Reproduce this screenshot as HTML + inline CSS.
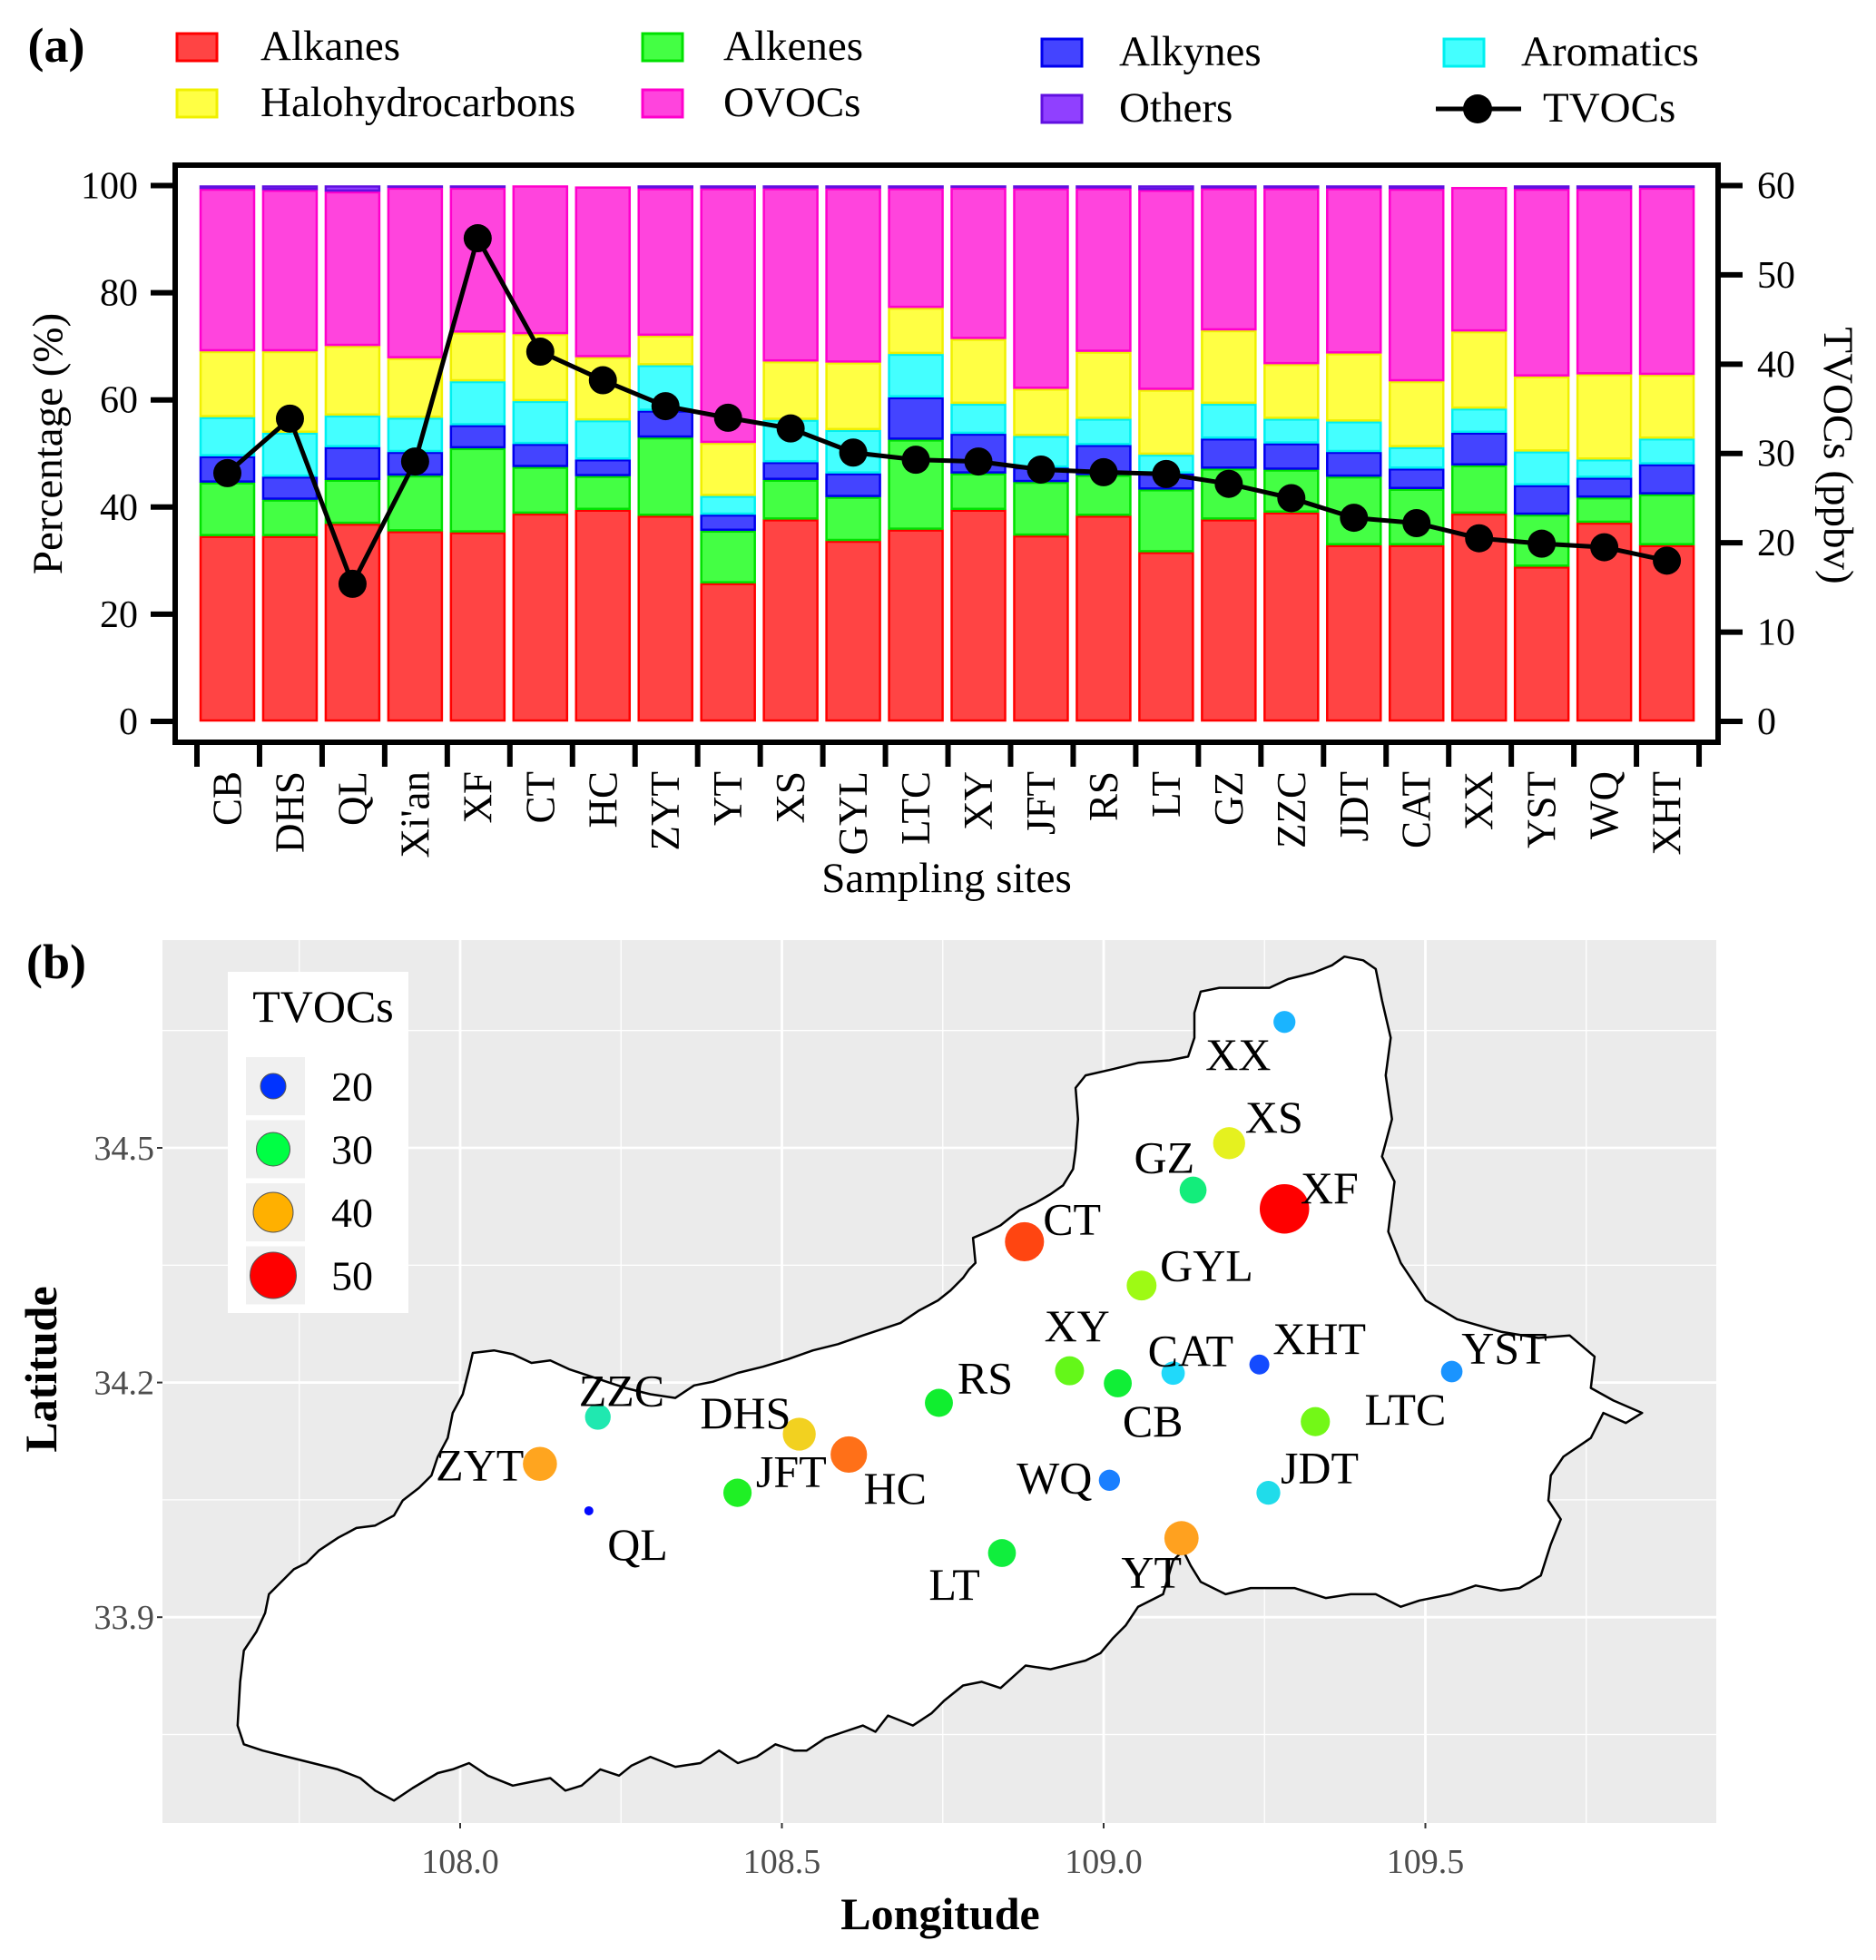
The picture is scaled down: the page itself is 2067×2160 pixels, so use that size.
<!DOCTYPE html>
<html><head><meta charset="utf-8"><style>
html,body{margin:0;padding:0;background:#fff;}
svg{display:block;font-family:"Liberation Serif",serif;}
</style></head><body>
<svg id="fig" width="2067" height="2160" viewBox="0 0 2067 2160" xmlns="http://www.w3.org/2000/svg">
<rect x="0" y="0" width="2067" height="2160" fill="#fff"/>
<text x="62" y="68" font-size="54" font-weight="bold" text-anchor="middle">(a)</text>
<g id="legend"></g>
<g id="chartA"></g>
<text x="62" y="1078" font-size="54" font-weight="bold" text-anchor="middle">(b)</text>
<g id="mapB"></g>
</svg>
<script>
const sites=["CB","DHS","QL","Xi'an","XF","CT","HC","ZYT","YT","XS","GYL","LTC","XY","JFT","RS","LT","GZ","ZZC","JDT","CAT","XX","YST","WQ","XHT"];
const alkanes=[34.6,34.6,36.9,35.5,35.3,38.8,39.5,38.4,25.8,37.7,33.7,35.8,39.5,34.7,38.4,31.6,37.7,39.0,32.9,32.9,38.8,28.9,37.1,32.9];
const alkenes=[10.0,6.8,8.2,10.4,15.7,8.7,6.3,14.6,9.8,7.4,8.2,16.8,6.8,10.0,7.6,11.7,9.5,8.0,12.8,10.5,9.0,9.7,4.7,9.5];
const alkynes=[4.9,4.3,6.1,4.4,4.3,4.3,3.1,5.0,3.0,3.3,4.4,7.9,7.4,2.7,5.6,3.0,5.6,4.9,4.6,3.8,6.1,5.5,3.7,5.6];
const aromatics=[7.3,8.2,5.9,6.4,8.2,8.0,7.3,8.5,3.5,7.9,8.1,8.1,5.6,5.9,4.9,3.5,6.5,4.6,5.7,4.0,4.5,6.3,3.4,4.8];
const halohydrocarbons=[12.3,15.2,13.0,11.1,9.1,12.5,11.8,5.5,9.9,10.9,12.6,8.6,12.1,8.8,12.5,12.1,13.7,10.2,12.7,12.3,14.4,14.0,15.9,11.9];
const ovocs=[30.3,30.1,28.8,31.8,27.0,27.7,31.8,27.5,47.5,32.3,32.5,22.3,28.2,37.4,30.5,37.3,26.5,32.8,30.8,35.9,26.9,35.0,34.6,34.9];
const others=[0.6,0.8,1.1,0.4,0.4,0.0,0.2,0.5,0.5,0.5,0.5,0.5,0.4,0.5,0.5,0.8,0.5,0.5,0.5,0.6,0.3,0.6,0.6,0.4];
const tvocs=[27.8,33.9,15.4,29.1,54.1,41.4,38.2,35.3,34.0,32.8,30.1,29.3,29.1,28.2,27.9,27.7,26.6,25.0,22.8,22.2,20.5,19.9,19.5,18.0];
const pctTicks=[0,20,40,60,80,100];
const tvocTicks=[0,10,20,30,40,50,60];
// map data
const mapSites=["XX","XS","GZ","XF","CT","GYL","XY","CAT","XHT","YST","RS","CB","ZZC","LTC","DHS","HC","ZYT","WQ","JDT","JFT","QL","YT","LT"];
const mapLon=[109.281,109.195,109.139,109.281,108.877,109.059,108.947,109.108,109.242,109.541,108.744,109.022,108.214,109.329,108.527,108.604,108.124,109.009,109.256,108.431,108.200,109.121,108.842];
const mapLat=[34.661,34.506,34.446,34.422,34.380,34.324,34.215,34.212,34.223,34.214,34.174,34.199,34.156,34.150,34.134,34.108,34.096,34.075,34.059,34.059,34.036,34.001,33.982];
const mapTvoc=[20.5,32.8,26.6,54.1,41.4,30.1,29.1,22.2,18.0,19.9,27.9,27.8,25.0,29.3,33.9,38.2,35.3,19.5,22.8,28.2,15.4,35.5,27.7];
const lonTicks=[108.0,108.5,109.0,109.5];
const latTicks=[33.9,34.2,34.5];
const legendVals=[20,30,40,50];

const NS="http://www.w3.org/2000/svg";
function mk(parent,tag,attrs,txt){const e=document.createElementNS(NS,tag);for(const k in attrs)e.setAttribute(k,attrs[k]);if(txt!==undefined)e.textContent=txt;parent.appendChild(e);return e;}

// ---------- Panel (a) ----------
const A=document.getElementById('chartA');
const yP=p=>795-p*5.905;
const yT=v=>795-v*9.842;
const barL=i=>220+i*68.96;
const BW=61;
const cats=[
 {name:'alkanes',vals:alkanes,fill:'#ff4444',stroke:'#ff0000'},
 {name:'alkenes',vals:alkenes,fill:'#44ff44',stroke:'#00e000'},
 {name:'alkynes',vals:alkynes,fill:'#4444ff',stroke:'#0000ee'},
 {name:'aromatics',vals:aromatics,fill:'#44ffff',stroke:'#00f0f0'},
 {name:'halohydrocarbons',vals:halohydrocarbons,fill:'#ffff44',stroke:'#f0f000'},
 {name:'ovocs',vals:ovocs,fill:'#ff44dd',stroke:'#ff00cc'},
 {name:'others',vals:others,fill:'#9040ff',stroke:'#6010e0'}];
sites.forEach((s,i)=>{
  let cum=0;
  cats.forEach(c=>{
    const v=c.vals[i];
    const y1=yP(cum+v), y0=yP(cum);
    const r=mk(A,'rect',{x:barL(i)+1,y:y1+1,width:BW-2,height:Math.max(0,y0-y1-2),fill:c.fill,stroke:c.stroke,'stroke-width':2.5});
    
    
    cum+=v;
  });
});
const box=mk(A,'rect',{x:193,y:182,width:1700,height:636,fill:'none',stroke:'#000','stroke-width':6});


pctTicks.forEach(t=>{
  const y=yP(t);
  const l=mk(A,'line',{x1:166,x2:193,y1:y,y2:y,stroke:'#000','stroke-width':6});
  
  
  const tx=mk(A,'text',{x:152,y:y+14,'font-size':42,'text-anchor':'end'},String(t));
  
  
});
tvocTicks.forEach(t=>{
  const y=yT(t);
  const l=mk(A,'line',{x1:1893,x2:1920,y1:y,y2:y,stroke:'#000','stroke-width':6});
  
  
  const tx=mk(A,'text',{x:1936,y:y+14,'font-size':42,'text-anchor':'start'},String(t));
  
  
});
for(let i=0;i<=sites.length;i++){
  const x=barL(i)-3;
  const l=mk(A,'line',{x1:x,x2:x,y1:818,y2:845,stroke:'#000','stroke-width':6});
  
  
}
sites.forEach((s,i)=>{
  const cx=barL(i)+BW/2+15;
  const tx=mk(A,'text',{x:0,y:0,'font-size':45,'text-anchor':'end',transform:`translate(${cx},850) rotate(-90)`},s);
  
  
});
let pts=tvocs.map((v,i)=>`${barL(i)+BW/2},${yT(v)}`).join(' ');
const pl=mk(A,'polyline',{points:pts,fill:'none',stroke:'#000','stroke-width':5});


tvocs.forEach((v,i)=>{
  const c=mk(A,'circle',{cx:barL(i)+BW/2,cy:yT(v),r:15.5,fill:'#000'});
  
  
});
let t1=mk(A,'text',{x:0,y:0,'font-size':47,'text-anchor':'middle',transform:'translate(68,489) rotate(-90)'},'Percentage (%)');


let t2=mk(A,'text',{x:0,y:0,'font-size':47,'text-anchor':'middle',transform:'translate(2010,502) rotate(90)'},'TVOCs (ppbv)');


let t3=mk(A,'text',{x:1043,y:983,'font-size':47,'text-anchor':'middle'},'Sampling sites');



// legend
const L=document.getElementById('legend');
const legItems=[
 ['Alkanes',0,193,287,52],['Alkenes',1,706,797,52],['Alkynes',2,1146,1233,58],['Aromatics',3,1589,1676,58],
 ['Halohydrocarbons',4,193,287,114],['OVOCs',5,706,797,114],['Others',6,1146,1233,120]];
legItems.forEach(it=>{
  const c=cats[it[1]];
  const g=mk(L,'g',{});
  
  
  mk(g,'rect',{x:it[2]+2,y:it[4]-15,width:44,height:30,fill:c.fill,stroke:c.stroke,'stroke-width':3});
  mk(g,'text',{x:it[3],y:it[4]+14,'font-size':47},it[0]);
});
{
  const g=mk(L,'g',{});
  
  
  mk(g,'line',{x1:1582,x2:1676,y1:120,y2:120,stroke:'#000','stroke-width':5});
  mk(g,'circle',{cx:1628,cy:120,r:16,fill:'#000'});
  mk(g,'text',{x:1700,y:134,'font-size':47},'TVOCs');
}

// ---------- Panel (b) ----------
const B=document.getElementById('mapB');
const PX0=179,PX1=1891,PY0=1036,PY1=2009;
const xL=lon=>507+(lon-108)*709;
const yL=lat=>1265-(lat-34.5)*862;
const bg=mk(B,'rect',{x:PX0,y:PY0,width:PX1-PX0,height:PY1-PY0,fill:'#ebebeb'});


for(let lon=107.75;lon<110;lon+=0.5){const x=xL(lon);const l=mk(B,'line',{x1:x,x2:x,y1:PY0,y2:PY1,stroke:'#fff','stroke-width':1.3});}
for(let lat=33.75;lat<34.8;lat+=0.3){const y=yL(lat);const l=mk(B,'line',{x1:PX0,x2:PX1,y1:y,y2:y,stroke:'#fff','stroke-width':1.3});}
lonTicks.forEach(t=>{const x=xL(t);const l=mk(B,'line',{x1:x,x2:x,y1:PY0,y2:PY1,stroke:'#fff','stroke-width':2.8});
  const tk=mk(B,'line',{x1:x,x2:x,y1:PY1,y2:PY1+6,stroke:'#333','stroke-width':2});
  const tx=mk(B,'text',{x:x,y:2064,'font-size':38,fill:'#4d4d4d','text-anchor':'middle'},t.toFixed(1));});
latTicks.forEach(t=>{const y=yL(t);const l=mk(B,'line',{x1:PX0,x2:PX1,y1:y,y2:y,stroke:'#fff','stroke-width':2.8});
  const tk=mk(B,'line',{x1:PX0-6,x2:PX0,y1:y,y2:y,stroke:'#333','stroke-width':2});
  const tx=mk(B,'text',{x:170,y:y+13,'font-size':38,fill:'#4d4d4d','text-anchor':'end'},t.toFixed(1));});
const bnd="1075,765 1090,768 1100,775 1105,800 1112,830 1108,860 1113,895 1105,925 1115,945 1110,985 1120,1010 1140,1040 1165,1055 1200,1065 1230,1070 1255,1068 1275,1085 1272,1110 1290,1120 1313,1130 1300,1138 1282,1130 1272,1150 1250,1165 1240,1180 1238,1200 1248,1215 1240,1235 1232,1260 1215,1270 1200,1272 1180,1268 1160,1275 1135,1280 1120,1285 1100,1275 1080,1275 1060,1278 1035,1270 1000,1270 980,1275 960,1265 952,1252 946,1240 938,1248 930,1275 910,1285 900,1300 890,1310 880,1322 868,1328 860,1330 840,1335 820,1332 800,1350 785,1345 770,1348 755,1360 745,1370 730,1380 710,1372 700,1385 690,1380 675,1385 660,1390 645,1400 635,1400 620,1395 605,1405 590,1410 575,1400 560,1410 540,1413 520,1405 505,1412 495,1420 480,1415 465,1428 452,1432 440,1422 425,1425 410,1428 390,1420 375,1410 362,1415 350,1418 330,1430 315,1440 300,1432 288,1422 270,1415 250,1410 230,1405 210,1400 195,1395 190,1380 192,1345 195,1320 205,1305 212,1290 215,1275 228,1262 235,1255 245,1250 255,1240 270,1230 285,1222 300,1220 315,1212 322,1200 335,1190 345,1180 350,1165 358,1150 362,1130 370,1115 375,1095 378,1082 395,1080 410,1083 425,1090 440,1088 455,1095 470,1100 485,1105 500,1110 520,1115 540,1118 555,1108 570,1105 590,1098 610,1093 630,1087 650,1080 670,1075 690,1068 705,1063 720,1058 735,1048 750,1040 760,1032 770,1022 775,1015 780,1010 778,990 790,985 800,980 815,968 828,962 840,955 850,948 858,935 860,920 862,895 860,870 868,860 890,855 910,850 935,848 950,845 955,830 955,810 960,793 975,790 1000,790 1015,790 1030,783 1050,778 1065,772";
const poly=mk(B,'polygon',{points:bnd.split(' ').map(p=>p.split(',').map(v=>(+v*1.378).toFixed(1)).join(',')).join(' '),fill:'#fff',stroke:'#000','stroke-width':2.5,'stroke-linejoin':'round'});


const cStops=[[15,[0,0,255]],[19,[26,100,255]],[20.5,[26,180,255]],[22,[32,216,255]],[25,[32,232,176]],[27,[16,238,110]],[28,[16,238,40]],[29.5,[130,250,20]],[31,[200,250,20]],[33,[232,240,32]],[35,[255,170,32]],[40,[255,80,20]],[50,[255,0,0]]];
function col(v){if(v<=cStops[0][0])return 'rgb('+cStops[0][1]+')';for(let k=1;k<cStops.length;k++){if(v<=cStops[k][0]){const a=cStops[k-1],b=cStops[k];const f=(v-a[0])/(b[0]-a[0]);return 'rgb('+a[1].map((c,j)=>Math.round(c+(b[1][j]-c)*f)).join(',')+')';}}return 'rgb(255,0,0)';}
const rad=v=>v<17?5:11+(v-18)*0.45;
const labOff={XX:[-37,26],XS:[36,-21],GZ:[-23,-26],XF:[36,-17],CT:[38,-18],GYL:[52,-16],XY:[6,-36],CAT:[14,-18],XHT:[48,-21],YST:[42,-19],RS:[37,-20],CB:[28,30],ZZC:[19,-21],LTC:[72,-10],DHS:[-43,-17],HC:[37,27],ZYT:[-48,1],WQ:[-44,-2],JDT:[41,-20],JFT:[43,-17],QL:[39,27],YT:[-24,27],LT:[-38,25]};
mapSites.forEach((s,i)=>{
  const x=xL(mapLon[i]),y=yL(mapLat[i]);
  const c=mk(B,'circle',{cx:x,cy:y,r:rad(mapTvoc[i]),fill:col(mapTvoc[i])});
  
  
  const o=labOff[s];
  const t=mk(B,'text',{x:x+o[0]*1.378,y:y+o[1]*1.378+17,'font-size':50,'text-anchor':'middle'},s);
  
  
});
const lg=mk(B,'g',{});


mk(lg,'rect',{x:251,y:1071,width:199,height:376,fill:'#fff'});
mk(lg,'text',{x:356,y:1126,'font-size':50,'text-anchor':'middle'},'TVOCs');
const legR=[14,18.5,22,25.5];
legendVals.forEach((v,k)=>{
  const cy=1197+k*69.5;
  const e=mk(lg,'g',{});
  
  
  mk(e,'rect',{x:271,y:cy-32,width:65,height:64,fill:'#f0f0f0'});
  mk(e,'circle',{cx:301,cy:cy,r:legR[k],fill:['#0033ff','#00ff44','#ffb000','#ff0000'][k],stroke:'#555','stroke-width':1});
  mk(e,'text',{x:365,y:cy+16,'font-size':46},String(v));
});
let mt1=mk(B,'text',{x:1036,y:2126,'font-size':50,'font-weight':'bold','text-anchor':'middle'},'Longitude');


let mt2=mk(B,'text',{x:0,y:0,'font-size':50,'font-weight':'bold','text-anchor':'middle',transform:'translate(62,1509) rotate(-90)'},'Latitude');


</script>
</body></html>
